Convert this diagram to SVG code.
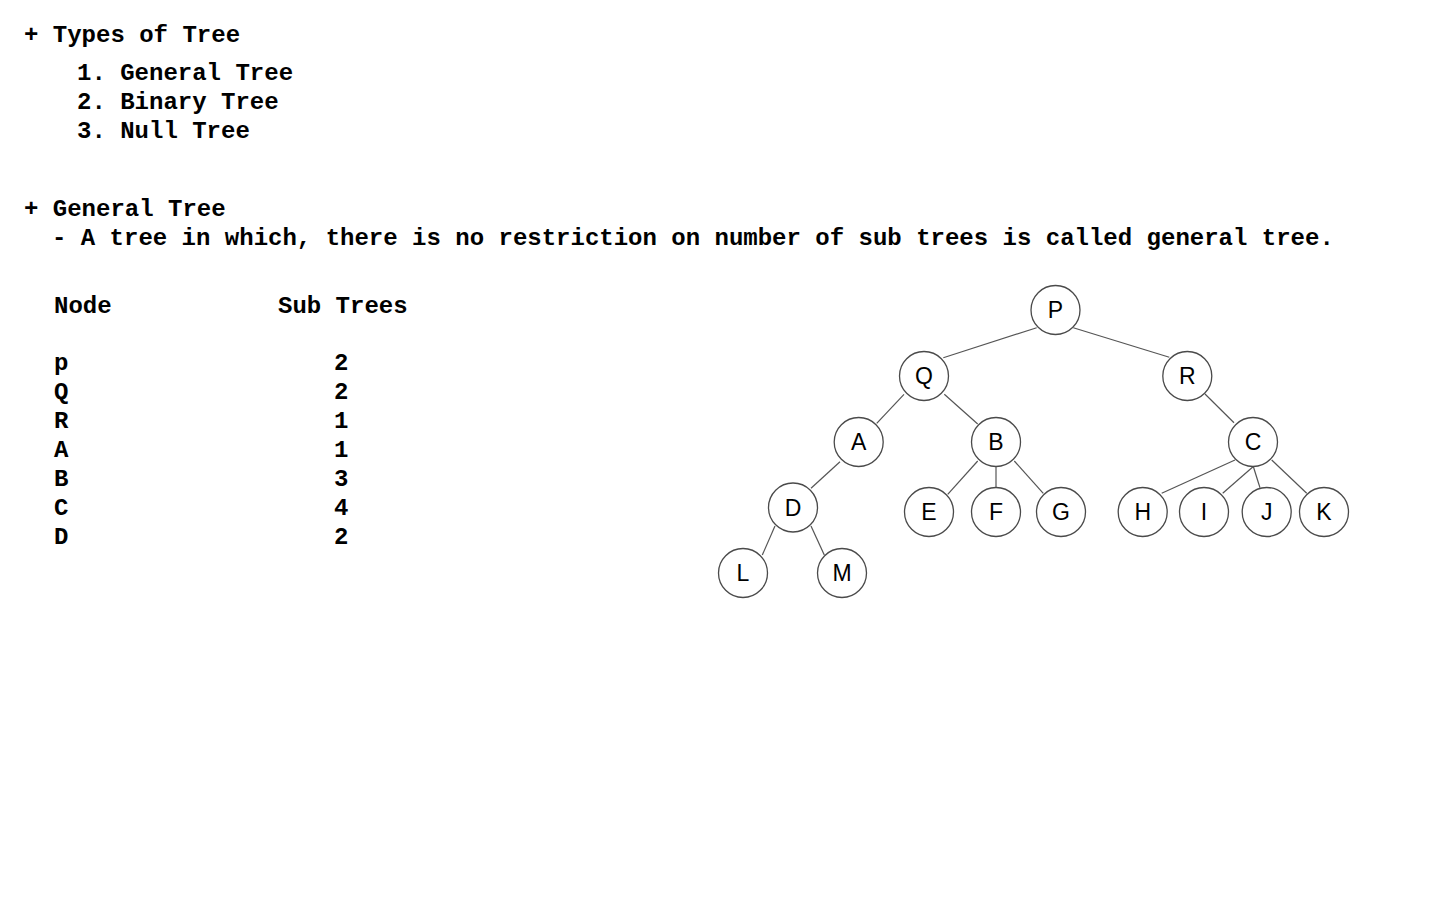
<svg xmlns="http://www.w3.org/2000/svg" width="1440" height="900" viewBox="0 0 1440 900">
<style>
.t{font-family:"Liberation Mono","Courier New",monospace;font-weight:bold;font-size:24px;fill:#000}
.n circle{fill:#fff;stroke:#4a4a4a;stroke-width:1.3}
.n text{font-family:"Liberation Sans",Arial,sans-serif;font-size:23px;fill:#000;text-anchor:middle}
#edges line{stroke:#555;stroke-width:1.2}
</style>
<rect width="1440" height="900" fill="#fff"/>
<g id="text">
<text class="t" x="24" y="42" xml:space="preserve">+ Types of Tree</text>
<text class="t" x="77" y="80">1. General Tree</text>
<text class="t" x="77" y="109">2. Binary Tree</text>
<text class="t" x="77" y="138">3. Null Tree</text>
<text class="t" x="24" y="216">+ General Tree</text>
<text class="t" x="52" y="245">- A tree in which, there is no restriction on number of sub trees is called general tree.</text>
<text class="t" x="54" y="313">Node</text>
<text class="t" x="278" y="313">Sub Trees</text>
<text class="t" x="54" y="370">p</text>
<text class="t" x="54" y="399">Q</text>
<text class="t" x="54" y="428">R</text>
<text class="t" x="54" y="457">A</text>
<text class="t" x="54" y="486">B</text>
<text class="t" x="54" y="515">C</text>
<text class="t" x="54" y="544">D</text>
<text class="t" x="334" y="370">2</text>
<text class="t" x="334" y="399">2</text>
<text class="t" x="334" y="428">1</text>
<text class="t" x="334" y="457">1</text>
<text class="t" x="334" y="486">3</text>
<text class="t" x="334" y="515">4</text>
<text class="t" x="334" y="544">2</text>
</g>
<g id="edges">
<line x1="1036.7" y1="327.7" x2="943.3" y2="357.7"/>
<line x1="1073.3" y1="327.7" x2="1169.3" y2="357.3"/>
<line x1="904" y1="394.3" x2="876.7" y2="423.3"/>
<line x1="944.3" y1="394.3" x2="977.7" y2="424"/>
<line x1="840" y1="461.7" x2="811" y2="488.3"/>
<line x1="775" y1="526" x2="762.3" y2="555"/>
<line x1="811" y1="526" x2="824.3" y2="555"/>
<line x1="977.7" y1="461" x2="947.7" y2="494.3"/>
<line x1="996" y1="466" x2="996" y2="487"/>
<line x1="1014.3" y1="461" x2="1043.3" y2="493.3"/>
<line x1="1205" y1="394" x2="1234" y2="422.7"/>
<line x1="1235" y1="460" x2="1161.7" y2="493.3"/>
<line x1="1253.3" y1="466.5" x2="1222.7" y2="493.3"/>
<line x1="1253.3" y1="466.5" x2="1260" y2="487.7"/>
<line x1="1271.7" y1="460" x2="1306.7" y2="493.3"/>
</g>
<g id="node-P" class="n"><circle cx="1055.5" cy="310" r="24.5"/><text x="1055.5" y="318">P</text></g>
<g id="node-Q" class="n"><circle cx="924" cy="376" r="24.5"/><text x="924" y="384">Q</text></g>
<g id="node-R" class="n"><circle cx="1187.3" cy="376" r="24.5"/><text x="1187.3" y="384">R</text></g>
<g id="node-A" class="n"><circle cx="858.7" cy="442" r="24.5"/><text x="858.7" y="450">A</text></g>
<g id="node-B" class="n"><circle cx="996" cy="442" r="24.5"/><text x="996" y="450">B</text></g>
<g id="node-C" class="n"><circle cx="1253" cy="442" r="24.5"/><text x="1253" y="450">C</text></g>
<g id="node-D" class="n"><circle cx="793" cy="507.5" r="24.5"/><text x="793" y="515.5">D</text></g>
<g id="node-E" class="n"><circle cx="929" cy="512" r="24.5"/><text x="929" y="520">E</text></g>
<g id="node-F" class="n"><circle cx="996" cy="512" r="24.5"/><text x="996" y="520">F</text></g>
<g id="node-G" class="n"><circle cx="1061" cy="512" r="24.5"/><text x="1061" y="520">G</text></g>
<g id="node-H" class="n"><circle cx="1142.7" cy="512" r="24.5"/><text x="1142.7" y="520">H</text></g>
<g id="node-I" class="n"><circle cx="1204" cy="512" r="24.5"/><text x="1204" y="520">I</text></g>
<g id="node-J" class="n"><circle cx="1266.7" cy="512" r="24.5"/><text x="1266.7" y="520">J</text></g>
<g id="node-K" class="n"><circle cx="1324" cy="512" r="24.5"/><text x="1324" y="520">K</text></g>
<g id="node-L" class="n"><circle cx="743" cy="573" r="24.5"/><text x="743" y="581">L</text></g>
<g id="node-M" class="n"><circle cx="842" cy="573" r="24.5"/><text x="842" y="581">M</text></g>
</svg>
